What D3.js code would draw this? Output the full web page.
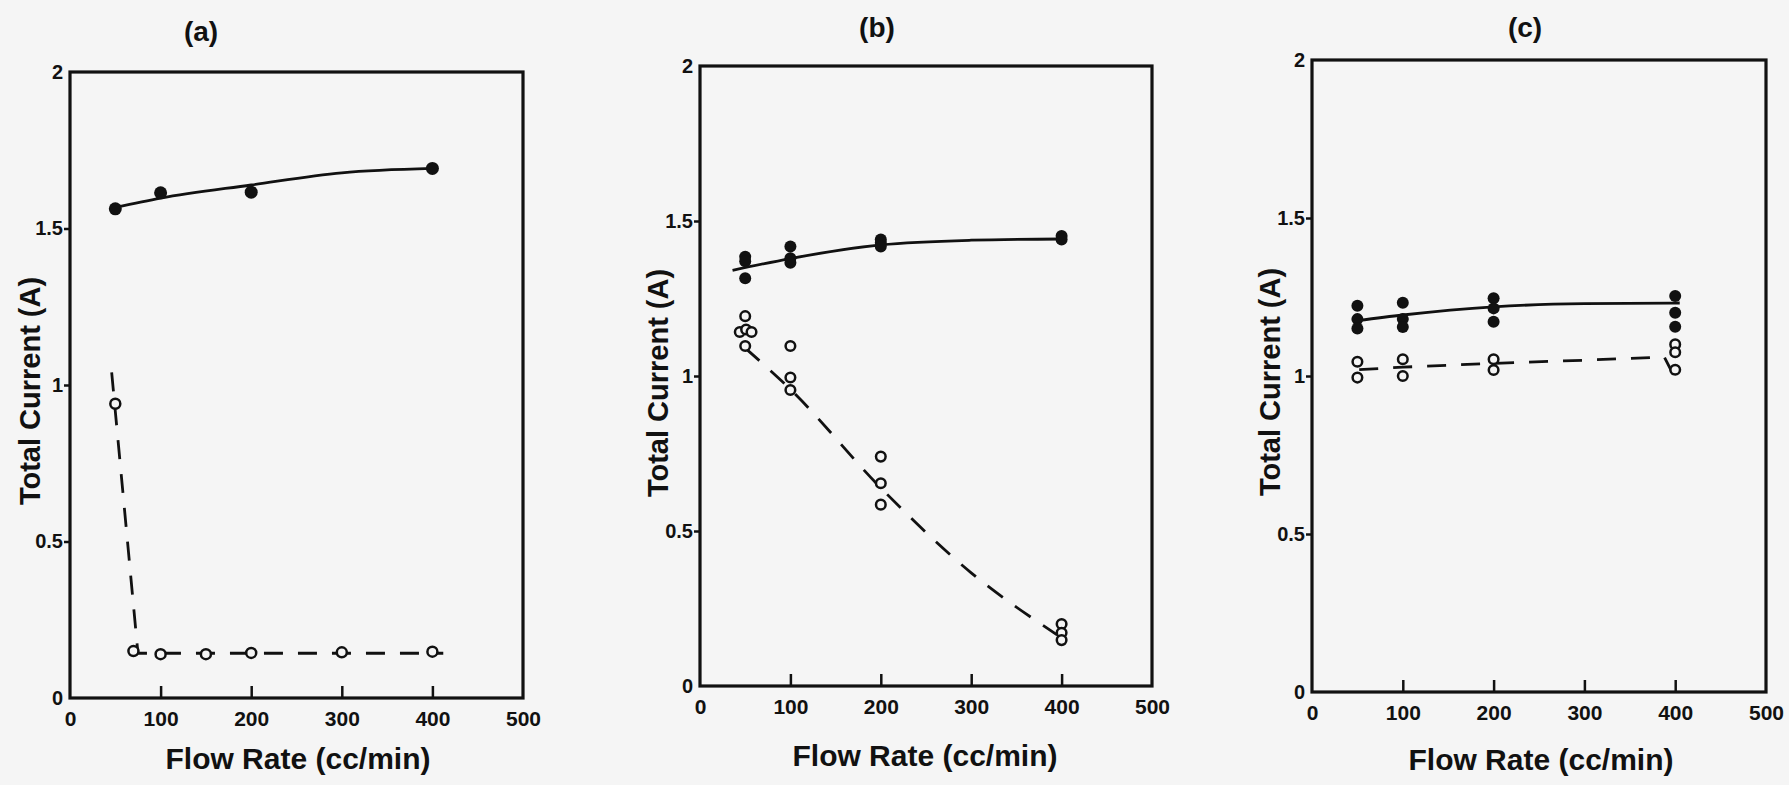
<!DOCTYPE html>
<html>
<head>
<meta charset="utf-8">
<script src="https://cdn.jsdelivr.net/npm/d3@7"></script>
<style>
  html, body { margin: 0; padding: 0; background: #f5f5f5; }
  svg { display: block; font-family: "Liberation Sans", Arial, Helvetica, sans-serif; font-weight: bold; }
</style>
</head>
<body>
<svg id="chart" width="1789" height="785"></svg>
<script>
// ---------- data ----------
const flowTicks = [0, 100, 200, 300, 400, 500];
const currentTicks = [0, 0.5, 1, 1.5, 2];
const panelTitles = ["(a)", "(b)", "(c)"];
const xTitle = "Flow Rate (cc/min)";
const yTitle = "Total Current (A)";

// panel (a)
const aFilledX = [50, 100, 200, 400];
const aFilledY = [1.563, 1.614, 1.616, 1.692];
const aOpenX = [50, 70, 100, 150, 200, 300, 400];
const aOpenY = [0.94, 0.15, 0.14, 0.14, 0.144, 0.146, 0.148];
const aSolidX = [50, 100, 200, 300, 400];
const aSolidY = [1.567, 1.597, 1.639, 1.678, 1.692];
const aDashX = [46, 75, 412];
const aDashY = [1.04, 0.143, 0.143];

// panel (b)
const bFilledX = [50, 50, 50, 100, 100, 100, 200, 200, 200, 400, 400];
const bFilledY = [1.385, 1.37, 1.315, 1.418, 1.38, 1.365, 1.44, 1.43, 1.418, 1.452, 1.44];
const bOpenX = [50, 44, 51, 57, 50, 100, 100, 100, 200, 200, 200, 400, 400, 400];
const bOpenY = [1.193, 1.142, 1.15, 1.142, 1.097, 1.097, 0.995, 0.955, 0.74, 0.654, 0.585, 0.2, 0.172, 0.148];
const bSolidX = [36, 100, 200, 300, 400];
const bSolidY = [1.341, 1.379, 1.423, 1.438, 1.442];
const bDashX = [50, 100, 200, 300, 395];
const bDashY = [1.09, 0.957, 0.639, 0.365, 0.165];

// panel (c)
const cFilledX = [50, 50, 50, 100, 100, 100, 200, 200, 200, 400, 400, 400];
const cFilledY = [1.222, 1.18, 1.15, 1.232, 1.18, 1.155, 1.246, 1.214, 1.172, 1.253, 1.2, 1.156];
const cOpenX = [50, 50, 100, 100, 200, 200, 400, 400, 400];
const cOpenY = [1.045, 0.995, 1.053, 1.0, 1.053, 1.019, 1.1, 1.075, 1.02];
const cSolidX = [50, 100, 200, 300, 405];
const cSolidY = [1.175, 1.193, 1.219, 1.229, 1.231];
const cDashX = [52, 100, 200, 300, 388, 405];
const cDashY = [1.02, 1.028, 1.04, 1.05, 1.06, 0.965];

// ---------- layout (pixel boxes of each plot frame) ----------
const zip = (xs, ys) => xs.map((x, i) => ({x, y: ys[i]}));
const panels = [
  { title: panelTitles[0], box: {l: 70, r: 523, t: 72, b: 698},
    titlePos: [201, 41], xTitlePos: [298, 769], yTitlePos: [30, 391],
    filled: zip(aFilledX, aFilledY), open: zip(aOpenX, aOpenY),
    solid: zip(aSolidX, aSolidY), dash: zip(aDashX, aDashY), dashCurve: d3.curveLinear,
    rF: 6.5, rO: 5 },
  { title: panelTitles[1], box: {l: 700, r: 1152, t: 66, b: 686},
    titlePos: [877, 37], xTitlePos: [925, 766], yTitlePos: [658, 383],
    filled: zip(bFilledX, bFilledY), open: zip(bOpenX, bOpenY),
    solid: zip(bSolidX, bSolidY), dash: zip(bDashX, bDashY), dashCurve: d3.curveMonotoneX,
    rF: 6, rO: 4.8 },
  { title: panelTitles[2], box: {l: 1312, r: 1766, t: 60, b: 692},
    titlePos: [1525, 37], xTitlePos: [1541, 770], yTitlePos: [1270, 382],
    filled: zip(cFilledX, cFilledY), open: zip(cOpenX, cOpenY),
    solid: zip(cSolidX, cSolidY), dash: zip(cDashX, cDashY), dashCurve: d3.curveLinear,
    rF: 6, rO: 4.8 }
];

const svg = d3.select("#chart");
const ink = "#111";

panels.forEach(p => {
  const x = d3.scaleLinear().domain([0, 500]).range([p.box.l, p.box.r]);
  const y = d3.scaleLinear().domain([0, 2]).range([p.box.b, p.box.t]);
  const g = svg.append("g");

  // frame
  g.append("rect")
    .attr("x", p.box.l).attr("y", p.box.t)
    .attr("width", p.box.r - p.box.l).attr("height", p.box.b - p.box.t)
    .attr("fill", "none").attr("stroke", ink).attr("stroke-width", 3.2);

  // x axis (ticks inward)
  const xa = g.append("g").attr("transform", `translate(0,${p.box.b})`)
    .call(d3.axisBottom(x).tickValues(flowTicks).tickSizeInner(-12).tickSizeOuter(0).tickPadding(13));
  xa.select(".domain").remove();
  xa.selectAll(".tick line").attr("stroke", ink).attr("stroke-width", 2.5)
    .filter(d => d === 0 || d === 500).remove();
  xa.selectAll(".tick text").attr("fill", ink).style("font-size", "21px").style("font-weight", "bold")
    .style("font-family", "Liberation Sans, Arial, sans-serif");

  // y axis (ticks outward)
  const ya = g.append("g").attr("transform", `translate(${p.box.l},0)`)
    .call(d3.axisLeft(y).tickValues(currentTicks).tickFormat(d3.format("")).tickSizeInner(6).tickSizeOuter(0).tickPadding(1));
  ya.select(".domain").remove();
  ya.selectAll(".tick line").attr("stroke", ink).attr("stroke-width", 2.5)
    .filter(d => d === 0 || d === 2).remove();
  ya.selectAll(".tick text").attr("fill", ink).style("font-size", "20px").style("font-weight", "bold")
    .style("font-family", "Liberation Sans, Arial, sans-serif");

  // titles
  g.append("text").attr("x", p.titlePos[0]).attr("y", p.titlePos[1])
    .attr("text-anchor", "middle").attr("fill", ink).style("font-size", "28px").text(p.title);
  g.append("text").attr("x", p.xTitlePos[0]).attr("y", p.xTitlePos[1])
    .attr("text-anchor", "middle").attr("fill", ink).style("font-size", "30px").text(xTitle);
  g.append("text")
    .attr("transform", `translate(${p.yTitlePos[0]},${p.yTitlePos[1]}) rotate(-90)`)
    .attr("text-anchor", "middle").attr("dy", "0.36em").attr("fill", ink)
    .style("font-size", "29px").text(yTitle);

  // fitted lines
  g.append("path").datum(p.solid)
    .attr("d", d3.line().x(d => x(d.x)).y(d => y(d.y)).curve(d3.curveMonotoneX))
    .attr("fill", "none").attr("stroke", ink).attr("stroke-width", 2.8);
  g.append("path").datum(p.dash)
    .attr("d", d3.line().x(d => x(d.x)).y(d => y(d.y)).curve(p.dashCurve))
    .attr("fill", "none").attr("stroke", ink).attr("stroke-width", 2.8)
    .attr("stroke-dasharray", "19,15");

  // markers
  g.selectAll(".filled").data(p.filled).join("circle")
    .attr("cx", d => x(d.x)).attr("cy", d => y(d.y)).attr("r", p.rF)
    .attr("fill", ink);
  g.selectAll(".open").data(p.open).join("circle")
    .attr("class", "open")
    .attr("cx", d => x(d.x)).attr("cy", d => y(d.y)).attr("r", p.rO)
    .attr("fill", "#f5f5f5").attr("stroke", ink).attr("stroke-width", 2.5);
});
</script>
</body>
</html>
